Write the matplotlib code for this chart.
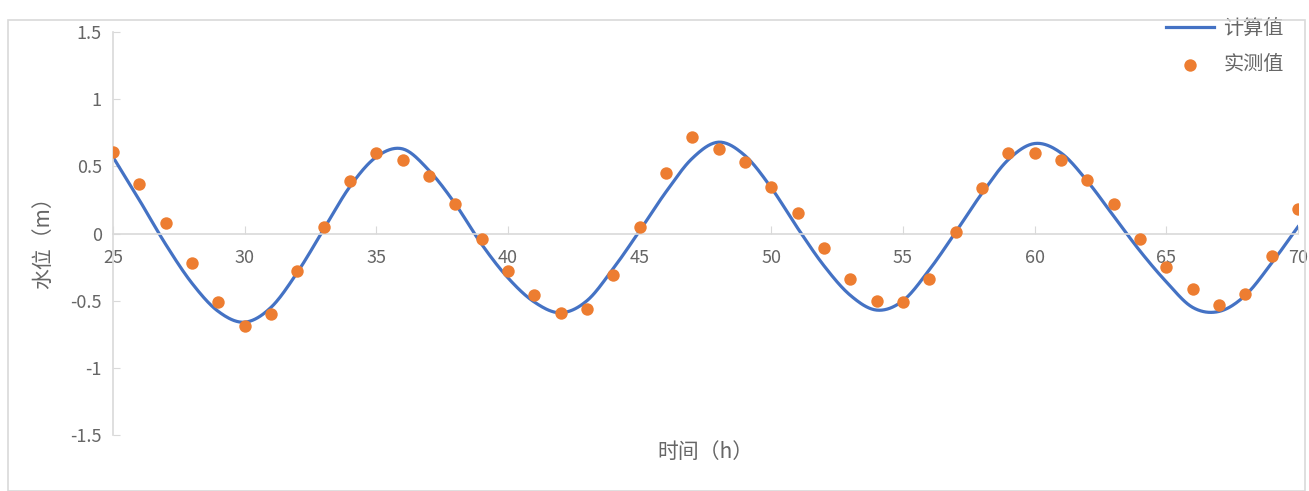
import numpy as np
import matplotlib
matplotlib.use("Agg")
import matplotlib.pyplot as plt
import matplotlib.patches as mpatches

plt.rcParams['font.family'] = ['Noto Sans CJK SC', 'DejaVu Sans']

# Hours (h)
hours = list(range(25, 71))

# 计算值 - computed water level (m), read at each hour
computed = [0.57, 0.25, -0.08, -0.37, -0.58, -0.66, -0.55, -0.29, 0.03, 0.35,
            0.57, 0.63, 0.47, 0.22, -0.08, -0.33, -0.51, -0.59, -0.50, -0.26,
            0.02, 0.31, 0.56, 0.68, 0.58, 0.34, 0.04, -0.24, -0.46, -0.57,
            -0.50, -0.27, 0.01, 0.30, 0.55, 0.67, 0.60, 0.39, 0.13, -0.13,
            -0.36, -0.55, -0.58, -0.46, -0.22, 0.05]

# 实测值 - measured water level (m)
measured = [0.61, 0.37, 0.08, -0.22, -0.51, -0.69, -0.60, -0.28, 0.045, 0.39,
            0.60, 0.55, 0.43, 0.22, -0.04, -0.28, -0.46, -0.59, -0.56, -0.31,
            0.05, 0.45, 0.72, 0.63, 0.53, 0.35, 0.15, -0.11, -0.34, -0.50,
            -0.51, -0.34, 0.01, 0.34, 0.60, 0.60, 0.55, 0.40, 0.22, -0.04,
            -0.25, -0.41, -0.53, -0.45, -0.17, 0.18]

x_ticks = [25, 30, 35, 40, 45, 50, 55, 60, 65, 70]
y_ticks = [-1.5, -1, -0.5, 0, 0.5, 1, 1.5]
y_tick_labels = ["-1.5", "-1", "-0.5", "0", "0.5", "1", "1.5"]


def smooth_line(x, y, steps=20):
    """Catmull-Rom smoothing, similar to a spreadsheet's smoothed line."""
    x = np.asarray(x, dtype=float)
    y = np.asarray(y, dtype=float)
    px = np.concatenate([[2 * x[0] - x[1]], x, [2 * x[-1] - x[-2]]])
    py = np.concatenate([[2 * y[0] - y[1]], y, [2 * y[-1] - y[-2]]])
    t = np.linspace(0, 1, steps, endpoint=False)
    xs, ys = [], []
    for i in range(1, len(px) - 2):
        for p, out in ((px, xs), (py, ys)):
            p0, p1, p2, p3 = p[i - 1], p[i], p[i + 1], p[i + 2]
            out.append(0.5 * ((2 * p1) + (-p0 + p2) * t
                              + (2 * p0 - 5 * p1 + 4 * p2 - p3) * t ** 2
                              + (-p0 + 3 * p1 - 3 * p2 + p3) * t ** 3))
    xs.append([x[-1]])
    ys.append([y[-1]])
    return np.concatenate(xs), np.concatenate(ys)


text_color = "#666666"
axis_color = "#D9D9D9"

fig = plt.figure(figsize=(13.09, 4.91), dpi=100)
ax = fig.add_axes([0.0863, 0.114, 0.9053, 0.8208])

sx, sy = smooth_line(hours, computed)
ax.plot(sx, sy, color="#4472C4", linewidth=2.3, label="计算值", zorder=2)
ax.scatter(hours, measured, s=80, color="#ED7D31", label="实测值", zorder=3,
           linewidths=0)

ax.set_xlim(25, 70)
ax.set_ylim(-1.5, 1.5)

# x axis crosses at y = 0
for side in ("top", "right"):
    ax.spines[side].set_visible(False)
ax.spines["bottom"].set_position(("data", 0))
ax.spines["bottom"].set_color(axis_color)
ax.spines["left"].set_color(axis_color)
ax.spines["bottom"].set_linewidth(1.2)
ax.spines["left"].set_linewidth(1.2)

ax.set_xticks(x_ticks)
ax.set_xticklabels([str(v) for v in x_ticks])
ax.set_yticks(y_ticks)
ax.set_yticklabels(y_tick_labels)
ax.tick_params(axis="x", direction="in", length=6, color=axis_color,
               labelsize=13, labelcolor=text_color, pad=11)
ax.tick_params(axis="y", direction="in", length=5, color=axis_color,
               labelsize=13, labelcolor=text_color, pad=8)

ax.set_xlabel("时间（h）", fontsize=15, color=text_color)
ax.xaxis.set_label_coords(0.5, -0.015)
ax.set_ylabel("水位（m）", fontsize=15, color=text_color)
ax.yaxis.set_label_coords(-0.05, 0.49)

leg = ax.legend(loc="upper right", bbox_to_anchor=(1.003, 1.08), frameon=False,
                fontsize=14.5, handlelength=2.4, handletextpad=0.45,
                labelspacing=0.75)
for t in leg.get_texts():
    t.set_color(text_color)

# chart area border
border = mpatches.Rectangle((0.006, 0.0), 0.991, 0.96, transform=fig.transFigure,
                            fill=False, edgecolor="#D9D9D9", linewidth=1.2)
fig.patches.append(border)

fig.savefig("out.png", dpi=100)
